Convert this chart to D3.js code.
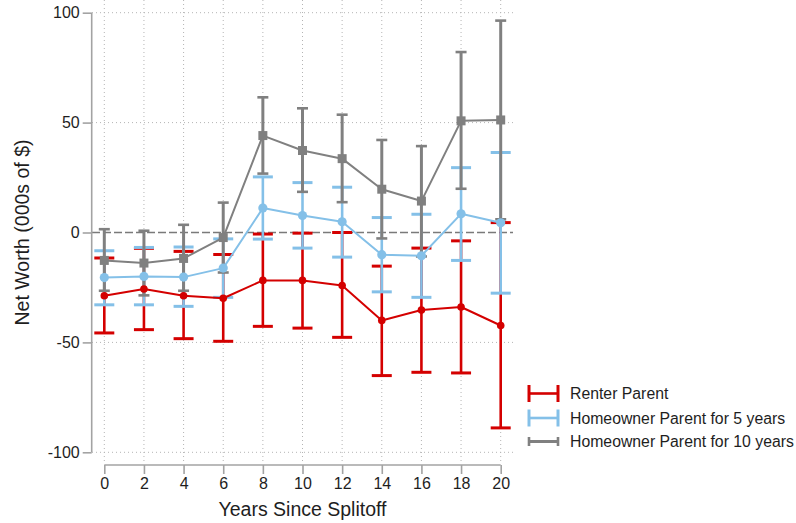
<!DOCTYPE html>
<html>
<head>
<meta charset="utf-8">
<script src="https://cdn.jsdelivr.net/npm/d3@7"></script>
<style>
  html, body { margin: 0; padding: 0; background: #fff; }
  svg { display: block; font-family: "Liberation Sans", Arial, sans-serif; }
</style>
</head>
<body>
<svg id="chart" width="796" height="523"></svg>
<script>
// Years since splitoff
const years = [0, 2, 4, 6, 8, 10, 12, 14, 16, 18, 20];

// Renter parent: point estimate and 95% interval (000s of $)
const renterMean = [-28.8, -25.7, -28.8, -29.9, -21.8, -21.8, -24.1, -40.0, -35.3, -33.9, -42.3];
const renterLo   = [-45.7, -44.2, -48.3, -49.5, -42.7, -43.5, -47.7, -65.1, -63.6, -63.9, -88.9];
const renterHi   = [-11.6, -7.2, -8.6, -10.0, -0.7, -0.3, 0.0, -15.3, -7.1, -3.8, 4.5];

// Homeowner parent for 5 years
const own5Mean = [-20.5, -20.0, -20.3, -16.2, 11.1, 7.7, 4.9, -10.1, -10.6, 8.5, 4.4];
const own5Lo   = [-32.9, -32.9, -33.6, -29.5, -3.0, -7.1, -11.2, -27.0, -29.5, -12.7, -27.6];
const own5Hi   = [-8.3, -6.8, -6.6, -2.9, 25.3, 22.7, 20.6, 6.8, 8.3, 29.5, 36.4];

// Homeowner parent for 10 years
const own10Mean = [-12.7, -13.9, -11.8, -2.3, 44.1, 37.3, 33.6, 19.7, 14.3, 50.8, 51.2];
const own10Lo   = [-26.5, -28.6, -26.5, -18.2, 26.8, 18.5, 13.8, -2.7, -10.9, 19.9, 6.0];
const own10Hi   = [1.5, 0.8, 3.5, 13.6, 61.5, 56.5, 53.6, 42.1, 39.3, 82.1, 96.4];

const yTicks = [-100, -50, 0, 50, 100];
const xTicks = years;
const seriesNames = ["Renter Parent", "Homeowner Parent for 5 years", "Homeowner Parent for 10 years"];

const svg = d3.select("#chart");

const x = d3.scaleLinear().domain([0, 20]).range([104.3, 500.7]);
const y = d3.scaleLinear().domain([-100, 100]).range([452.3, 12.7]);

const series = [
  { name: seriesNames[0], mean: renterMean, lo: renterLo, hi: renterHi,
    color: "#d40000", capW: 20, capSW: 3, whSW: 2.6, lineSW: 2, marker: "circle", mSize: 3.8, legCapH: 17 },
  { name: seriesNames[1], mean: own5Mean, lo: own5Lo, hi: own5Hi,
    color: "#84c0e8", capW: 20, capSW: 3, whSW: 2.6, lineSW: 2, marker: "circle", mSize: 4.6, legCapH: 17 },
  { name: seriesNames[2], mean: own10Mean, lo: own10Lo, hi: own10Hi,
    color: "#808080", capW: 11, capSW: 2.6, whSW: 3, lineSW: 2, marker: "square", mSize: 9, legCapH: 9 }
];

// Grid: dotted verticals at each year, dotted horizontals except at zero
const grid = svg.append("g").attr("stroke", "#b4b4b4").attr("stroke-width", 1)
  .attr("stroke-dasharray", "1,3");
grid.selectAll("line.v").data(xTicks).join("line")
  .attr("x1", d => x(d)).attr("x2", d => x(d))
  .attr("y1", 0).attr("y2", 463);
grid.selectAll("line.h").data(yTicks.filter(d => d !== 0)).join("line")
  .attr("x1", 92).attr("x2", 513)
  .attr("y1", d => y(d)).attr("y2", d => y(d));

// Zero reference line
svg.append("line")
  .attr("x1", 92).attr("x2", 513)
  .attr("y1", y(0)).attr("y2", y(0))
  .attr("stroke", "#7a7a7a").attr("stroke-width", 1.6)
  .attr("stroke-dasharray", "8,3");

// Axes
const axisColor = "#a3a3a3";
const textColor = "#1e1e1e";
const plainInt = d => String(d);  // ASCII hyphen for negatives

const yAxis = svg.append("g").attr("transform", "translate(91.7,0)")
  .call(d3.axisLeft(y).tickValues(yTicks).tickSize(9).tickPadding(3).tickFormat(plainInt));
const xAxis = svg.append("g").attr("transform", "translate(0,465)")
  .call(d3.axisBottom(x).tickValues(xTicks).tickSize(9).tickPadding(4).tickFormat(plainInt));

[yAxis, xAxis].forEach(g => {
  g.select(".domain").attr("stroke", axisColor).attr("stroke-width", 1.6);
  g.selectAll(".tick line").attr("stroke", axisColor).attr("stroke-width", 1.6);
  g.selectAll(".tick text").attr("fill", textColor)
    .style("font-size", "16px").style("font-family", "'Liberation Sans', Arial, sans-serif");
});
// Domains without outer ticks
yAxis.select(".domain").attr("d", `M0,${y(-100)}V${y(100)}`);
xAxis.select(".domain").attr("d", `M${x(0)},0H${x(20)}`);

// Axis titles
svg.append("text")
  .attr("transform", `translate(29,${y(0)}) rotate(-90)`)
  .attr("text-anchor", "middle")
  .attr("fill", textColor)
  .style("font-size", "19.5px")
  .text("Net Worth (000s of $)");
svg.append("text")
  .attr("x", (x(0) + x(20)) / 2).attr("y", 516)
  .attr("text-anchor", "middle")
  .attr("fill", textColor)
  .style("font-size", "19.5px")
  .text("Years Since Splitoff");

// Confidence-interval caps for every series first
series.forEach(s => {
  const g = svg.append("g").attr("stroke", s.color).attr("fill", "none");
  const rows = years.map((yr, i) => ({ yr, lo: s.lo[i], hi: s.hi[i] }));
  g.selectAll("line.wh").data(rows).join("line")
    .attr("stroke-width", s.whSW)
    .attr("x1", d => x(d.yr)).attr("x2", d => x(d.yr))
    .attr("y1", d => y(d.lo)).attr("y2", d => y(d.hi));
  ["lo", "hi"].forEach(k => {
    g.selectAll("line.cap" + k).data(rows).join("line")
      .attr("stroke-width", s.capSW)
      .attr("x1", d => x(d.yr) - s.capW / 2).attr("x2", d => x(d.yr) + s.capW / 2)
      .attr("y1", d => y(d[k])).attr("y2", d => y(d[k]));
  });
});

// Connected point estimates on top
series.forEach(s => {
  const pts = years.map((yr, i) => ({ yr, v: s.mean[i] }));
  svg.append("path").datum(pts)
    .attr("fill", "none").attr("stroke", s.color).attr("stroke-width", s.lineSW)
    .attr("stroke-linejoin", "round")
    .attr("d", d3.line().x(d => x(d.yr)).y(d => y(d.v)));
  if (s.marker === "circle") {
    svg.append("g").selectAll("circle").data(pts).join("circle")
      .attr("cx", d => x(d.yr)).attr("cy", d => y(d.v)).attr("r", s.mSize)
      .attr("fill", s.color);
  } else {
    svg.append("g").selectAll("rect").data(pts).join("rect")
      .attr("x", d => x(d.yr) - s.mSize / 2).attr("y", d => y(d.v) - s.mSize / 2)
      .attr("width", s.mSize).attr("height", s.mSize)
      .attr("fill", s.color);
  }
});

// Legend
const legY = [393.5, 418, 441.5];
series.forEach((s, i) => {
  const g = svg.append("g").attr("transform", `translate(0,${legY[i]})`);
  const x0 = 529, x1 = 558;
  g.append("line").attr("x1", x0).attr("x2", x1).attr("y1", 0).attr("y2", 0)
    .attr("stroke", s.color).attr("stroke-width", s.whSW);
  [x0, x1].forEach(cx => g.append("line")
    .attr("x1", cx).attr("x2", cx)
    .attr("y1", -s.legCapH / 2).attr("y2", s.legCapH / 2)
    .attr("stroke", s.color).attr("stroke-width", s.capSW));
  g.append("text").attr("x", 570).attr("y", 5.5)
    .attr("fill", textColor).style("font-size", "15.8px")
    .text(s.name);
});
</script>
</body>
</html>
